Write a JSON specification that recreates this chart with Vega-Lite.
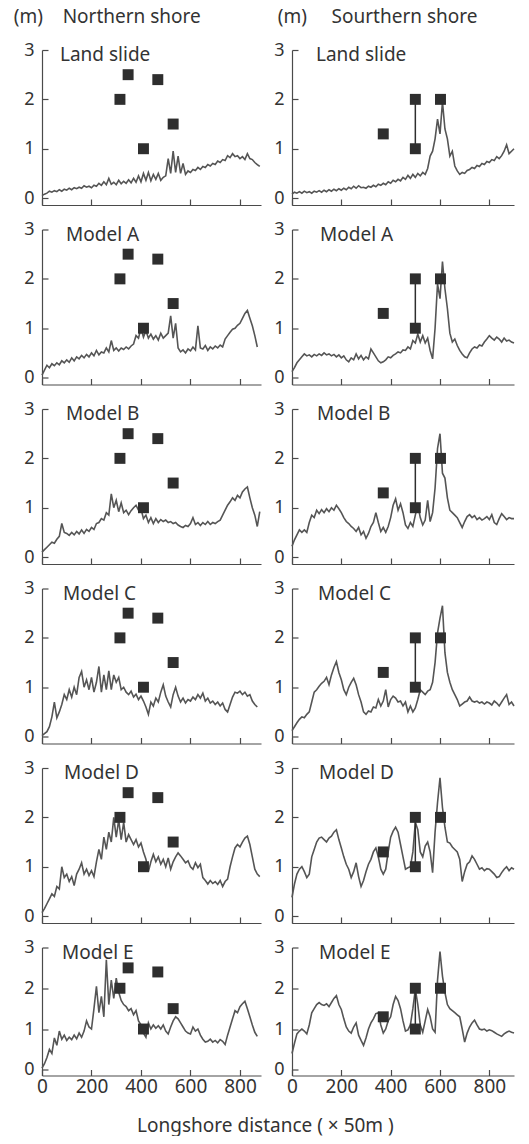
{
"$schema": "https://vega.github.io/schema/vega-lite/v6.json",
"padding": {"left": 13, "top": 8, "right": 0, "bottom": 0},
"title": {"text": "Longshore distance ( × 50m )", "orient": "bottom", "anchor": "middle", "fontSize": 19, "offset": 20},
"datasets": {
"sim": [
{"x":0,"NL":0.05,"NA":0.05,"NB":0.1,"NC":0.02,"ND":0.07,"NE":0.04,"SL":0.08,"SA":0.12,"SB":0.22,"SC":0.12,"SD":0.38,"SE":0.4},
{"x":10,"NL":0.08,"NA":0.15,"NB":0.15,"NC":0.06,"ND":0.15,"NE":0.15,"SL":0.12,"SA":0.2,"SB":0.35,"SC":0.2,"SD":0.65,"SE":0.65},
{"x":20,"NL":0.1,"NA":0.25,"NB":0.2,"NC":0.1,"ND":0.25,"NE":0.3,"SL":0.1,"SA":0.3,"SB":0.45,"SC":0.28,"SD":0.85,"SE":0.88},
{"x":30,"NL":0.14,"NA":0.2,"NB":0.25,"NC":0.2,"ND":0.35,"NE":0.5,"SL":0.13,"SA":0.36,"SB":0.55,"SC":0.35,"SD":0.95,"SE":0.95},
{"x":40,"NL":0.12,"NA":0.28,"NB":0.3,"NC":0.4,"ND":0.45,"NE":0.4,"SL":0.1,"SA":0.42,"SB":0.5,"SC":0.4,"SD":1.0,"SE":1.0},
{"x":50,"NL":0.15,"NA":0.24,"NB":0.28,"NC":0.7,"ND":0.4,"NE":0.78,"SL":0.14,"SA":0.48,"SB":0.55,"SC":0.38,"SD":0.9,"SE":0.95},
{"x":60,"NL":0.13,"NA":0.3,"NB":0.36,"NC":0.38,"ND":0.6,"NE":0.6,"SL":0.11,"SA":0.44,"SB":0.5,"SC":0.45,"SD":0.78,"SE":0.88},
{"x":70,"NL":0.17,"NA":0.26,"NB":0.42,"NC":0.5,"ND":0.55,"NE":0.95,"SL":0.13,"SA":0.46,"SB":0.7,"SC":0.5,"SD":0.85,"SE":1.1},
{"x":80,"NL":0.14,"NA":0.34,"NB":0.68,"NC":0.65,"ND":1.0,"NE":0.75,"SL":0.1,"SA":0.42,"SB":0.85,"SC":0.7,"SD":1.2,"SE":1.4},
{"x":90,"NL":0.18,"NA":0.3,"NB":0.5,"NC":0.85,"ND":0.78,"NE":0.85,"SL":0.14,"SA":0.47,"SB":0.8,"SC":0.9,"SD":1.35,"SE":1.5},
{"x":100,"NL":0.16,"NA":0.36,"NB":0.48,"NC":0.75,"ND":0.85,"NE":0.72,"SL":0.12,"SA":0.44,"SB":0.95,"SC":0.95,"SD":1.5,"SE":1.6},
{"x":110,"NL":0.2,"NA":0.31,"NB":0.44,"NC":0.95,"ND":0.7,"NE":0.8,"SL":0.15,"SA":0.48,"SB":0.88,"SC":1.02,"SD":1.58,"SE":1.65},
{"x":120,"NL":0.17,"NA":0.4,"NB":0.5,"NC":0.8,"ND":0.8,"NE":0.74,"SL":0.12,"SA":0.45,"SB":0.96,"SC":1.08,"SD":1.6,"SE":1.6},
{"x":130,"NL":0.21,"NA":0.34,"NB":0.45,"NC":1.0,"ND":0.62,"NE":0.85,"SL":0.16,"SA":0.5,"SB":0.9,"SC":1.12,"SD":1.55,"SE":1.58},
{"x":140,"NL":0.19,"NA":0.42,"NB":0.52,"NC":0.85,"ND":0.85,"NE":0.76,"SL":0.13,"SA":0.46,"SB":0.98,"SC":1.2,"SD":1.5,"SE":1.62},
{"x":150,"NL":0.22,"NA":0.38,"NB":0.47,"NC":1.2,"ND":0.95,"NE":0.9,"SL":0.17,"SA":0.48,"SB":0.92,"SC":1.05,"SD":1.58,"SE":1.55},
{"x":160,"NL":0.2,"NA":0.45,"NB":0.55,"NC":1.32,"ND":1.08,"NE":0.8,"SL":0.14,"SA":0.44,"SB":1.0,"SC":1.25,"SD":1.62,"SE":1.65},
{"x":170,"NL":0.25,"NA":0.4,"NB":0.48,"NC":1.0,"ND":0.85,"NE":0.95,"SL":0.18,"SA":0.47,"SB":0.95,"SC":1.4,"SD":1.7,"SE":1.75},
{"x":180,"NL":0.22,"NA":0.47,"NB":0.56,"NC":1.15,"ND":0.95,"NE":1.2,"SL":0.15,"SA":0.42,"SB":1.05,"SC":1.52,"SD":1.75,"SE":1.82},
{"x":190,"NL":0.24,"NA":0.42,"NB":0.52,"NC":0.95,"ND":0.82,"NE":1.05,"SL":0.19,"SA":0.46,"SB":0.98,"SC":1.3,"SD":1.55,"SE":1.6},
{"x":200,"NL":0.21,"NA":0.5,"NB":0.6,"NC":1.2,"ND":0.92,"NE":1.0,"SL":0.16,"SA":0.4,"SB":0.9,"SC":1.15,"SD":1.38,"SE":1.48},
{"x":210,"NL":0.26,"NA":0.44,"NB":0.56,"NC":0.9,"ND":0.8,"NE":1.5,"SL":0.2,"SA":0.44,"SB":0.8,"SC":0.95,"SD":1.2,"SE":1.25},
{"x":220,"NL":0.24,"NA":0.55,"NB":0.68,"NC":1.1,"ND":1.1,"NE":2.05,"SL":0.17,"SA":0.36,"SB":0.72,"SC":0.85,"SD":1.05,"SE":1.05},
{"x":230,"NL":0.3,"NA":0.46,"NB":0.7,"NC":1.42,"ND":1.35,"NE":1.4,"SL":0.22,"SA":0.32,"SB":0.68,"SC":1.0,"SD":0.95,"SE":0.95},
{"x":240,"NL":0.26,"NA":0.52,"NB":0.78,"NC":0.9,"ND":1.15,"NE":1.8,"SL":0.19,"SA":0.4,"SB":0.62,"SC":1.1,"SD":0.78,"SE":0.9},
{"x":250,"NL":0.33,"NA":0.5,"NB":0.75,"NC":1.25,"ND":1.6,"NE":1.3,"SL":0.24,"SA":0.36,"SB":0.58,"SC":1.18,"SD":0.9,"SE":1.05},
{"x":260,"NL":0.27,"NA":0.6,"NB":0.9,"NC":0.95,"ND":1.35,"NE":2.7,"SL":0.2,"SA":0.48,"SB":0.52,"SC":1.05,"SD":1.08,"SE":1.15},
{"x":270,"NL":0.4,"NA":0.52,"NB":0.85,"NC":1.33,"ND":1.7,"NE":1.6,"SL":0.25,"SA":0.38,"SB":0.6,"SC":0.85,"SD":0.8,"SE":0.85},
{"x":280,"NL":0.28,"NA":0.75,"NB":1.28,"NC":0.95,"ND":1.5,"NE":2.2,"SL":0.21,"SA":0.45,"SB":0.45,"SC":0.7,"SD":0.6,"SE":0.72},
{"x":290,"NL":0.32,"NA":0.55,"NB":1.0,"NC":1.25,"ND":2.0,"NE":1.75,"SL":0.22,"SA":0.36,"SB":0.52,"SC":0.5,"SD":0.72,"SE":0.6},
{"x":300,"NL":0.27,"NA":0.6,"NB":1.15,"NC":1.1,"ND":1.6,"NE":2.25,"SL":0.2,"SA":0.42,"SB":0.38,"SC":0.45,"SD":0.9,"SE":0.78},
{"x":310,"NL":0.36,"NA":0.54,"NB":0.92,"NC":1.2,"ND":1.95,"NE":1.9,"SL":0.24,"SA":0.38,"SB":0.48,"SC":0.52,"SD":1.05,"SE":1.0},
{"x":320,"NL":0.29,"NA":0.6,"NB":1.1,"NC":0.95,"ND":1.55,"NE":1.7,"SL":0.22,"SA":0.58,"SB":0.62,"SC":0.5,"SD":1.15,"SE":1.15},
{"x":330,"NL":0.34,"NA":0.57,"NB":0.9,"NC":1.0,"ND":1.9,"NE":1.6,"SL":0.26,"SA":0.5,"SB":0.7,"SC":0.6,"SD":1.3,"SE":1.25},
{"x":340,"NL":0.3,"NA":0.62,"NB":0.95,"NC":0.9,"ND":1.5,"NE":1.55,"SL":0.23,"SA":0.42,"SB":0.9,"SC":0.58,"SD":1.38,"SE":1.38},
{"x":350,"NL":0.37,"NA":0.58,"NB":0.86,"NC":0.85,"ND":1.65,"NE":1.45,"SL":0.28,"SA":0.34,"SB":0.7,"SC":0.75,"SD":1.2,"SE":1.4},
{"x":360,"NL":0.31,"NA":0.64,"NB":0.94,"NC":0.92,"ND":1.55,"NE":1.5,"SL":0.26,"SA":0.3,"SB":0.52,"SC":0.62,"SD":0.95,"SE":1.1},
{"x":370,"NL":0.4,"NA":0.68,"NB":1.0,"NC":0.8,"ND":1.45,"NE":1.35,"SL":0.3,"SA":0.32,"SB":0.6,"SC":0.72,"SD":0.85,"SE":0.9},
{"x":380,"NL":0.32,"NA":0.85,"NB":1.05,"NC":0.86,"ND":1.55,"NE":1.45,"SL":0.27,"SA":0.36,"SB":0.5,"SC":0.95,"SD":0.95,"SE":1.0},
{"x":390,"NL":0.45,"NA":0.8,"NB":0.95,"NC":0.75,"ND":1.4,"NE":1.2,"SL":0.33,"SA":0.42,"SB":0.62,"SC":0.6,"SD":1.3,"SE":1.2},
{"x":400,"NL":0.33,"NA":1.0,"NB":0.98,"NC":0.82,"ND":1.48,"NE":1.1,"SL":0.3,"SA":0.4,"SB":0.8,"SC":0.75,"SD":1.6,"SE":1.3},
{"x":410,"NL":0.5,"NA":0.82,"NB":0.78,"NC":0.72,"ND":1.3,"NE":0.9,"SL":0.36,"SA":0.45,"SB":1.05,"SC":0.82,"SD":1.72,"SE":1.6},
{"x":420,"NL":0.36,"NA":0.95,"NB":0.85,"NC":0.6,"ND":1.15,"NE":0.8,"SL":0.33,"SA":0.48,"SB":1.18,"SC":0.78,"SD":1.8,"SE":1.8},
{"x":430,"NL":0.52,"NA":0.8,"NB":0.7,"NC":0.45,"ND":0.9,"NE":1.15,"SL":0.38,"SA":0.52,"SB":0.95,"SC":0.7,"SD":1.7,"SE":1.7},
{"x":440,"NL":0.35,"NA":0.88,"NB":0.8,"NC":0.7,"ND":1.1,"NE":1.0,"SL":0.35,"SA":0.5,"SB":1.08,"SC":0.72,"SD":1.45,"SE":1.5},
{"x":450,"NL":0.48,"NA":0.78,"NB":0.68,"NC":0.62,"ND":1.25,"NE":1.1,"SL":0.42,"SA":0.56,"SB":0.9,"SC":0.62,"SD":1.2,"SE":1.2},
{"x":460,"NL":0.38,"NA":0.85,"NB":0.78,"NC":0.78,"ND":1.1,"NE":1.02,"SL":0.38,"SA":0.55,"SB":0.65,"SC":0.7,"SD":0.95,"SE":0.95},
{"x":470,"NL":0.5,"NA":0.76,"NB":0.7,"NC":0.7,"ND":1.2,"NE":1.08,"SL":0.46,"SA":0.62,"SB":0.58,"SC":0.5,"SD":0.98,"SE":0.98},
{"x":480,"NL":0.36,"NA":0.9,"NB":0.76,"NC":0.9,"ND":1.05,"NE":1.0,"SL":0.4,"SA":0.58,"SB":0.7,"SC":0.62,"SD":1.0,"SE":1.1},
{"x":490,"NL":0.42,"NA":0.8,"NB":0.72,"NC":1.05,"ND":1.15,"NE":1.1,"SL":0.48,"SA":0.75,"SB":0.62,"SC":0.5,"SD":1.3,"SE":1.5},
{"x":500,"NL":0.45,"NA":0.85,"NB":0.75,"NC":0.82,"ND":1.0,"NE":0.95,"SL":0.42,"SA":0.7,"SB":0.85,"SC":0.58,"SD":1.9,"SE":1.98},
{"x":510,"NL":0.8,"NA":0.9,"NB":0.7,"NC":0.7,"ND":1.18,"NE":0.88,"SL":0.5,"SA":0.88,"SB":1.05,"SC":0.75,"SD":1.75,"SE":1.6},
{"x":520,"NL":0.5,"NA":1.25,"NB":0.72,"NC":0.6,"ND":0.95,"NE":1.05,"SL":0.45,"SA":0.72,"SB":0.8,"SC":0.95,"SD":1.3,"SE":1.1},
{"x":530,"NL":0.95,"NA":0.8,"NB":0.68,"NC":0.85,"ND":1.1,"NE":1.2,"SL":0.52,"SA":0.85,"SB":0.65,"SC":0.9,"SD":1.2,"SE":0.92},
{"x":540,"NL":0.52,"NA":1.1,"NB":0.7,"NC":1.0,"ND":1.2,"NE":1.3,"SL":0.48,"SA":0.7,"SB":0.75,"SC":0.85,"SD":1.42,"SE":1.2},
{"x":550,"NL":0.85,"NA":0.6,"NB":0.65,"NC":0.82,"ND":1.28,"NE":1.25,"SL":0.6,"SA":0.8,"SB":1.15,"SC":0.92,"SD":1.5,"SE":1.48},
{"x":560,"NL":0.5,"NA":0.52,"NB":0.62,"NC":0.7,"ND":1.22,"NE":1.15,"SL":0.85,"SA":0.55,"SB":0.72,"SC":0.95,"SD":1.3,"SE":1.3},
{"x":570,"NL":0.7,"NA":0.56,"NB":0.6,"NC":0.78,"ND":1.15,"NE":1.05,"SL":0.95,"SA":0.38,"SB":0.9,"SC":1.1,"SD":0.88,"SE":1.0},
{"x":580,"NL":0.48,"NA":0.5,"NB":0.64,"NC":0.68,"ND":1.08,"NE":0.95,"SL":1.2,"SA":1.0,"SB":1.4,"SC":1.5,"SD":1.7,"SE":0.92},
{"x":590,"NL":0.55,"NA":0.58,"NB":0.62,"NC":0.75,"ND":1.12,"NE":0.9,"SL":1.6,"SA":1.9,"SB":2.2,"SC":2.1,"SD":2.3,"SE":2.2},
{"x":600,"NL":0.52,"NA":0.54,"NB":0.68,"NC":0.72,"ND":1.0,"NE":0.88,"SL":1.3,"SA":1.6,"SB":2.5,"SC":2.4,"SD":2.8,"SE":2.9},
{"x":610,"NL":0.58,"NA":0.62,"NB":0.8,"NC":0.8,"ND":0.95,"NE":1.05,"SL":1.95,"SA":2.35,"SB":1.7,"SC":2.65,"SD":2.2,"SE":2.3},
{"x":620,"NL":0.56,"NA":0.56,"NB":0.66,"NC":0.75,"ND":1.08,"NE":0.95,"SL":1.4,"SA":1.8,"SB":1.6,"SC":1.7,"SD":1.8,"SE":1.9},
{"x":630,"NL":0.62,"NA":1.05,"NB":0.7,"NC":0.85,"ND":0.98,"NE":1.0,"SL":1.2,"SA":1.4,"SB":1.2,"SC":1.3,"SD":1.5,"SE":1.6},
{"x":640,"NL":0.58,"NA":0.6,"NB":0.64,"NC":0.78,"ND":1.05,"NE":0.85,"SL":0.85,"SA":0.9,"SB":0.95,"SC":1.1,"SD":1.48,"SE":1.5},
{"x":650,"NL":0.64,"NA":0.58,"NB":0.7,"NC":0.88,"ND":0.78,"NE":0.75,"SL":0.95,"SA":0.72,"SB":0.9,"SC":0.95,"SD":1.4,"SE":1.45},
{"x":660,"NL":0.62,"NA":0.65,"NB":0.66,"NC":0.72,"ND":0.72,"NE":0.68,"SL":0.65,"SA":0.78,"SB":0.85,"SC":0.85,"SD":1.35,"SE":1.4},
{"x":670,"NL":0.68,"NA":0.55,"NB":0.72,"NC":0.78,"ND":0.65,"NE":0.7,"SL":0.55,"SA":0.65,"SB":0.8,"SC":0.75,"SD":1.3,"SE":1.35},
{"x":680,"NL":0.65,"NA":0.62,"NB":0.66,"NC":0.68,"ND":0.72,"NE":0.75,"SL":0.48,"SA":0.55,"SB":0.7,"SC":0.62,"SD":1.15,"SE":1.3},
{"x":690,"NL":0.7,"NA":0.58,"NB":0.7,"NC":0.72,"ND":0.66,"NE":0.68,"SL":0.52,"SA":0.48,"SB":0.6,"SC":0.66,"SD":0.7,"SE":1.0},
{"x":700,"NL":0.68,"NA":0.64,"NB":0.68,"NC":0.65,"ND":0.7,"NE":0.72,"SL":0.5,"SA":0.42,"SB":0.72,"SC":0.7,"SD":0.9,"SE":0.68},
{"x":710,"NL":0.75,"NA":0.6,"NB":0.72,"NC":0.7,"ND":0.64,"NE":0.66,"SL":0.56,"SA":0.4,"SB":0.82,"SC":0.72,"SD":1.05,"SE":0.9},
{"x":720,"NL":0.72,"NA":0.66,"NB":0.75,"NC":0.62,"ND":0.72,"NE":0.74,"SL":0.58,"SA":0.5,"SB":0.86,"SC":0.8,"SD":1.1,"SE":1.05},
{"x":730,"NL":0.78,"NA":0.62,"NB":0.85,"NC":0.68,"ND":0.6,"NE":0.7,"SL":0.62,"SA":0.58,"SB":0.8,"SC":0.72,"SD":1.22,"SE":1.15},
{"x":740,"NL":0.76,"NA":0.78,"NB":0.95,"NC":0.55,"ND":0.7,"NE":0.62,"SL":0.6,"SA":0.62,"SB":0.84,"SC":0.7,"SD":1.15,"SE":1.22},
{"x":750,"NL":0.86,"NA":0.85,"NB":1.05,"NC":0.5,"ND":0.75,"NE":0.85,"SL":0.66,"SA":0.6,"SB":0.76,"SC":0.72,"SD":1.05,"SE":1.1},
{"x":760,"NL":0.82,"NA":0.92,"NB":1.12,"NC":0.65,"ND":1.0,"NE":1.05,"SL":0.64,"SA":0.66,"SB":0.8,"SC":0.68,"SD":0.95,"SE":1.0},
{"x":770,"NL":0.9,"NA":0.98,"NB":1.2,"NC":0.8,"ND":1.2,"NE":1.25,"SL":0.7,"SA":0.64,"SB":0.75,"SC":0.7,"SD":0.98,"SE":0.98},
{"x":780,"NL":0.84,"NA":1.0,"NB":1.15,"NC":0.9,"ND":1.38,"NE":1.45,"SL":0.68,"SA":0.72,"SB":0.78,"SC":0.66,"SD":0.92,"SE":1.0},
{"x":790,"NL":0.86,"NA":1.06,"NB":1.25,"NC":0.88,"ND":1.45,"NE":1.4,"SL":0.74,"SA":0.78,"SB":0.82,"SC":0.7,"SD":0.96,"SE":0.95},
{"x":800,"NL":0.8,"NA":1.1,"NB":1.2,"NC":0.92,"ND":1.4,"NE":1.55,"SL":0.72,"SA":0.85,"SB":0.76,"SC":0.68,"SD":0.95,"SE":0.98},
{"x":810,"NL":0.84,"NA":1.2,"NB":1.32,"NC":0.85,"ND":1.5,"NE":1.62,"SL":0.78,"SA":0.8,"SB":0.86,"SC":0.64,"SD":0.9,"SE":0.96},
{"x":820,"NL":0.78,"NA":1.3,"NB":1.38,"NC":0.9,"ND":1.58,"NE":1.68,"SL":0.76,"SA":0.76,"SB":0.7,"SC":0.72,"SD":0.85,"SE":0.92},
{"x":830,"NL":0.9,"NA":1.36,"NB":1.42,"NC":0.82,"ND":1.62,"NE":1.5,"SL":0.84,"SA":0.82,"SB":0.66,"SC":0.68,"SD":0.78,"SE":0.88},
{"x":840,"NL":0.8,"NA":1.2,"NB":1.2,"NC":0.85,"ND":1.45,"NE":1.3,"SL":0.8,"SA":0.78,"SB":0.78,"SC":0.62,"SD":0.8,"SE":0.85},
{"x":850,"NL":0.78,"NA":1.05,"NB":1.0,"NC":0.72,"ND":1.2,"NE":1.1,"SL":0.86,"SA":0.72,"SB":0.88,"SC":0.7,"SD":0.88,"SE":0.82},
{"x":860,"NL":0.72,"NA":0.85,"NB":0.85,"NC":0.65,"ND":0.95,"NE":0.92,"SL":0.95,"SA":0.8,"SB":0.82,"SC":0.78,"SD":0.95,"SE":0.88},
{"x":870,"NL":0.68,"NA":0.62,"NB":0.62,"NC":0.6,"ND":0.85,"NE":0.82,"SL":1.08,"SA":0.74,"SB":0.76,"SC":0.85,"SD":1.0,"SE":0.92},
{"x":880,"NL":0.64,"NA":null,"NB":0.92,"NC":null,"ND":0.8,"NE":null,"SL":0.9,"SA":0.76,"SB":0.8,"SC":0.65,"SD":0.92,"SE":0.95},
{"x":890,"NL":null,"NA":null,"NB":null,"NC":null,"ND":null,"NE":null,"SL":0.95,"SA":0.72,"SB":0.78,"SC":0.7,"SD":0.98,"SE":0.92},
{"x":900,"NL":null,"NA":null,"NB":null,"NC":null,"ND":null,"NE":null,"SL":1.0,"SA":0.7,"SB":0.78,"SC":0.62,"SD":0.95,"SE":0.9}
],
"obsN": [{"x":315,"y":2.0},{"x":348,"y":2.5},{"x":468,"y":2.4},{"x":410,"y":1.0},{"x":530,"y":1.5}],
"obsS": [{"x":370,"y":1.3},{"x":500,"y":2.0},{"x":500,"y":1.0},{"x":602,"y":2.0}],
"rangeS": [{"x":500,"lo":1.0,"hi":2.0}]
},
"spacing": 10,
"hconcat": [
{
"title": {"text": "(m)\u00a0\u00a0\u00a0\u00a0Northern shore", "anchor": "start", "fontSize": 19, "dx": -10, "offset": 14},
"spacing": 12.5,
"vconcat": [
{"width": 219, "height": 155, "title": {"text": "Land slide", "anchor": "start", "frame": "group", "offset": -24, "dx": 18, "fontSize": 19},
 "layer": [
  {"data": {"name": "sim"}, "mark": {"type": "line", "color": "#555555", "strokeWidth": 1.6}, "encoding": {"x": {"field": "x", "type": "quantitative", "scale": {"domain": [0, 885], "nice": false}, "axis": {"values": [0,200,400,600,800], "labels": false}}, "y": {"field": "NL", "type": "quantitative", "scale": {"domain": [-0.14, 3], "nice": false}, "axis": {"values": [0,1,2,3]}}}},
  {"data": {"name": "obsN"}, "mark": {"type": "square", "size": 120, "color": "#2e2e2e", "opacity": 1}, "encoding": {"x": {"field": "x", "type": "quantitative"}, "y": {"field": "y", "type": "quantitative"}}}
 ]},
{"width": 219, "height": 155, "title": {"text": "Model A", "anchor": "start", "frame": "group", "offset": -24, "dx": 24, "fontSize": 19},
 "layer": [
  {"data": {"name": "sim"}, "mark": {"type": "line", "color": "#555555", "strokeWidth": 1.6}, "encoding": {"x": {"field": "x", "type": "quantitative", "scale": {"domain": [0, 885], "nice": false}, "axis": {"values": [0,200,400,600,800], "labels": false}}, "y": {"field": "NA", "type": "quantitative", "scale": {"domain": [-0.14, 3], "nice": false}, "axis": {"values": [0,1,2,3]}}}},
  {"data": {"name": "obsN"}, "mark": {"type": "square", "size": 120, "color": "#2e2e2e", "opacity": 1}, "encoding": {"x": {"field": "x", "type": "quantitative"}, "y": {"field": "y", "type": "quantitative"}}}
 ]},
{"width": 219, "height": 155, "title": {"text": "Model B", "anchor": "start", "frame": "group", "offset": -24, "dx": 24, "fontSize": 19},
 "layer": [
  {"data": {"name": "sim"}, "mark": {"type": "line", "color": "#555555", "strokeWidth": 1.6}, "encoding": {"x": {"field": "x", "type": "quantitative", "scale": {"domain": [0, 885], "nice": false}, "axis": {"values": [0,200,400,600,800], "labels": false}}, "y": {"field": "NB", "type": "quantitative", "scale": {"domain": [-0.14, 3], "nice": false}, "axis": {"values": [0,1,2,3]}}}},
  {"data": {"name": "obsN"}, "mark": {"type": "square", "size": 120, "color": "#2e2e2e", "opacity": 1}, "encoding": {"x": {"field": "x", "type": "quantitative"}, "y": {"field": "y", "type": "quantitative"}}}
 ]},
{"width": 219, "height": 155, "title": {"text": "Model C", "anchor": "start", "frame": "group", "offset": -24, "dx": 21, "fontSize": 19},
 "layer": [
  {"data": {"name": "sim"}, "mark": {"type": "line", "color": "#555555", "strokeWidth": 1.6}, "encoding": {"x": {"field": "x", "type": "quantitative", "scale": {"domain": [0, 885], "nice": false}, "axis": {"values": [0,200,400,600,800], "labels": false}}, "y": {"field": "NC", "type": "quantitative", "scale": {"domain": [-0.14, 3], "nice": false}, "axis": {"values": [0,1,2,3]}}}},
  {"data": {"name": "obsN"}, "mark": {"type": "square", "size": 120, "color": "#2e2e2e", "opacity": 1}, "encoding": {"x": {"field": "x", "type": "quantitative"}, "y": {"field": "y", "type": "quantitative"}}}
 ]},
{"width": 219, "height": 155, "title": {"text": "Model D", "anchor": "start", "frame": "group", "offset": -24, "dx": 22, "fontSize": 19},
 "layer": [
  {"data": {"name": "sim"}, "mark": {"type": "line", "color": "#555555", "strokeWidth": 1.6}, "encoding": {"x": {"field": "x", "type": "quantitative", "scale": {"domain": [0, 885], "nice": false}, "axis": {"values": [0,200,400,600,800], "labels": false}}, "y": {"field": "ND", "type": "quantitative", "scale": {"domain": [-0.14, 3], "nice": false}, "axis": {"values": [0,1,2,3]}}}},
  {"data": {"name": "obsN"}, "mark": {"type": "square", "size": 120, "color": "#2e2e2e", "opacity": 1}, "encoding": {"x": {"field": "x", "type": "quantitative"}, "y": {"field": "y", "type": "quantitative"}}}
 ]},
{"width": 219, "height": 128, "title": {"text": "Model E", "anchor": "start", "frame": "group", "offset": -24, "dx": 20, "fontSize": 19},
 "layer": [
  {"data": {"name": "sim"}, "mark": {"type": "line", "color": "#555555", "strokeWidth": 1.6}, "encoding": {"x": {"field": "x", "type": "quantitative", "scale": {"domain": [0, 885], "nice": false}, "axis": {"values": [0,200,400,600,800]}}, "y": {"field": "NE", "type": "quantitative", "scale": {"domain": [-0.14, 3], "nice": false}, "axis": {"values": [0,1,2,3]}}}},
  {"data": {"name": "obsN"}, "mark": {"type": "square", "size": 120, "color": "#2e2e2e", "opacity": 1}, "encoding": {"x": {"field": "x", "type": "quantitative"}, "y": {"field": "y", "type": "quantitative"}}}
 ]}
]
},
{
"title": {"text": "(m)\u00a0\u00a0\u00a0\u00a0\u00a0Sourthern shore", "anchor": "start", "fontSize": 19, "dx": 4, "offset": 14},
"spacing": 12.5,
"vconcat": [
{"width": 222, "height": 155, "title": {"text": "Land slide", "anchor": "start", "frame": "group", "offset": -24, "dx": 24, "fontSize": 19},
 "layer": [
  {"data": {"name": "sim"}, "mark": {"type": "line", "color": "#555555", "strokeWidth": 1.6}, "encoding": {"x": {"field": "x", "type": "quantitative", "scale": {"domain": [0, 900], "nice": false}, "axis": {"values": [0,200,400,600,800], "labels": false}}, "y": {"field": "SL", "type": "quantitative", "scale": {"domain": [-0.14, 3], "nice": false}, "axis": {"values": [0,1,2,3]}}}},
  {"data": {"name": "rangeS"}, "mark": {"type": "rule", "color": "#2e2e2e", "strokeWidth": 1.5}, "encoding": {"x": {"field": "x", "type": "quantitative"}, "y": {"field": "lo", "type": "quantitative"}, "y2": {"field": "hi"}}},
  {"data": {"name": "obsS"}, "mark": {"type": "square", "size": 120, "color": "#2e2e2e", "opacity": 1}, "encoding": {"x": {"field": "x", "type": "quantitative"}, "y": {"field": "y", "type": "quantitative"}}}
 ]},
{"width": 222, "height": 155, "title": {"text": "Model A", "anchor": "start", "frame": "group", "offset": -24, "dx": 28, "fontSize": 19},
 "layer": [
  {"data": {"name": "sim"}, "mark": {"type": "line", "color": "#555555", "strokeWidth": 1.6}, "encoding": {"x": {"field": "x", "type": "quantitative", "scale": {"domain": [0, 900], "nice": false}, "axis": {"values": [0,200,400,600,800], "labels": false}}, "y": {"field": "SA", "type": "quantitative", "scale": {"domain": [-0.14, 3], "nice": false}, "axis": {"values": [0,1,2,3]}}}},
  {"data": {"name": "rangeS"}, "mark": {"type": "rule", "color": "#2e2e2e", "strokeWidth": 1.5}, "encoding": {"x": {"field": "x", "type": "quantitative"}, "y": {"field": "lo", "type": "quantitative"}, "y2": {"field": "hi"}}},
  {"data": {"name": "obsS"}, "mark": {"type": "square", "size": 120, "color": "#2e2e2e", "opacity": 1}, "encoding": {"x": {"field": "x", "type": "quantitative"}, "y": {"field": "y", "type": "quantitative"}}}
 ]},
{"width": 222, "height": 155, "title": {"text": "Model B", "anchor": "start", "frame": "group", "offset": -24, "dx": 25, "fontSize": 19},
 "layer": [
  {"data": {"name": "sim"}, "mark": {"type": "line", "color": "#555555", "strokeWidth": 1.6}, "encoding": {"x": {"field": "x", "type": "quantitative", "scale": {"domain": [0, 900], "nice": false}, "axis": {"values": [0,200,400,600,800], "labels": false}}, "y": {"field": "SB", "type": "quantitative", "scale": {"domain": [-0.14, 3], "nice": false}, "axis": {"values": [0,1,2,3]}}}},
  {"data": {"name": "rangeS"}, "mark": {"type": "rule", "color": "#2e2e2e", "strokeWidth": 1.5}, "encoding": {"x": {"field": "x", "type": "quantitative"}, "y": {"field": "lo", "type": "quantitative"}, "y2": {"field": "hi"}}},
  {"data": {"name": "obsS"}, "mark": {"type": "square", "size": 120, "color": "#2e2e2e", "opacity": 1}, "encoding": {"x": {"field": "x", "type": "quantitative"}, "y": {"field": "y", "type": "quantitative"}}}
 ]},
{"width": 222, "height": 155, "title": {"text": "Model C", "anchor": "start", "frame": "group", "offset": -24, "dx": 26, "fontSize": 19},
 "layer": [
  {"data": {"name": "sim"}, "mark": {"type": "line", "color": "#555555", "strokeWidth": 1.6}, "encoding": {"x": {"field": "x", "type": "quantitative", "scale": {"domain": [0, 900], "nice": false}, "axis": {"values": [0,200,400,600,800], "labels": false}}, "y": {"field": "SC", "type": "quantitative", "scale": {"domain": [-0.14, 3], "nice": false}, "axis": {"values": [0,1,2,3]}}}},
  {"data": {"name": "rangeS"}, "mark": {"type": "rule", "color": "#2e2e2e", "strokeWidth": 1.5}, "encoding": {"x": {"field": "x", "type": "quantitative"}, "y": {"field": "lo", "type": "quantitative"}, "y2": {"field": "hi"}}},
  {"data": {"name": "obsS"}, "mark": {"type": "square", "size": 120, "color": "#2e2e2e", "opacity": 1}, "encoding": {"x": {"field": "x", "type": "quantitative"}, "y": {"field": "y", "type": "quantitative"}}}
 ]},
{"width": 222, "height": 155, "title": {"text": "Model D", "anchor": "start", "frame": "group", "offset": -24, "dx": 27, "fontSize": 19},
 "layer": [
  {"data": {"name": "sim"}, "mark": {"type": "line", "color": "#555555", "strokeWidth": 1.6}, "encoding": {"x": {"field": "x", "type": "quantitative", "scale": {"domain": [0, 900], "nice": false}, "axis": {"values": [0,200,400,600,800], "labels": false}}, "y": {"field": "SD", "type": "quantitative", "scale": {"domain": [-0.14, 3], "nice": false}, "axis": {"values": [0,1,2,3]}}}},
  {"data": {"name": "rangeS"}, "mark": {"type": "rule", "color": "#2e2e2e", "strokeWidth": 1.5}, "encoding": {"x": {"field": "x", "type": "quantitative"}, "y": {"field": "lo", "type": "quantitative"}, "y2": {"field": "hi"}}},
  {"data": {"name": "obsS"}, "mark": {"type": "square", "size": 120, "color": "#2e2e2e", "opacity": 1}, "encoding": {"x": {"field": "x", "type": "quantitative"}, "y": {"field": "y", "type": "quantitative"}}}
 ]},
{"width": 222, "height": 128, "title": {"text": "Model E", "anchor": "start", "frame": "group", "offset": -24, "dx": 27, "fontSize": 19},
 "layer": [
  {"data": {"name": "sim"}, "mark": {"type": "line", "color": "#555555", "strokeWidth": 1.6}, "encoding": {"x": {"field": "x", "type": "quantitative", "scale": {"domain": [0, 900], "nice": false}, "axis": {"values": [0,200,400,600,800]}}, "y": {"field": "SE", "type": "quantitative", "scale": {"domain": [-0.14, 3], "nice": false}, "axis": {"values": [0,1,2,3]}}}},
  {"data": {"name": "rangeS"}, "mark": {"type": "rule", "color": "#2e2e2e", "strokeWidth": 1.5}, "encoding": {"x": {"field": "x", "type": "quantitative"}, "y": {"field": "lo", "type": "quantitative"}, "y2": {"field": "hi"}}},
  {"data": {"name": "obsS"}, "mark": {"type": "square", "size": 120, "color": "#2e2e2e", "opacity": 1}, "encoding": {"x": {"field": "x", "type": "quantitative"}, "y": {"field": "y", "type": "quantitative"}}}
 ]}
]
}
],
"config": {
 "view": {"stroke": null},
 "font": "Noto Sans",
 "axis": {"grid": false, "title": null, "domainColor": "#4a4a4a", "tickColor": "#4a4a4a", "domainWidth": 1.2, "tickWidth": 1.2, "tickSize": -6, "labelFont": "Noto Sans", "labelColor": "#333333", "labelFontSize": 18, "labelPadding": 14, "labelFlush": false},
 "axisX": {"labelFontSize": 19, "labelPadding": 8},
 "title": {"font": "Noto Sans", "fontWeight": "normal", "color": "#333333"}
}
}
